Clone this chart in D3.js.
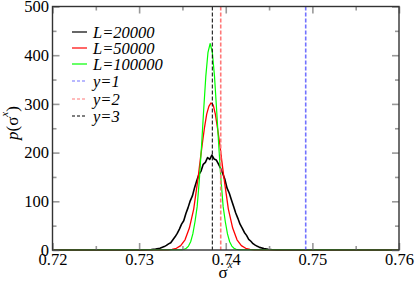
<!DOCTYPE html>
<html>
<head>
<meta charset="utf-8">
<script src="https://cdn.jsdelivr.net/npm/d3@7"></script>
<style>
body { margin: 0; background: #fff; }
text { font-family: "Liberation Serif", "Times New Roman", serif; }
</style>
</head>
<body>
<div id="chart"></div>
<script>
// L=20000 (black)
var sx20000 = [0.72, 0.7299, 0.7304, 0.7309, 0.7314, 0.7319, 0.7324, 0.7329, 0.73315, 0.7334, 0.73365,
  0.7339, 0.73415, 0.7344, 0.73465, 0.7349, 0.73515, 0.7354, 0.73565, 0.7359, 0.73615, 0.7364, 0.73665,
  0.7369, 0.73715, 0.7374, 0.73765, 0.7379, 0.73815, 0.7384, 0.73865, 0.7389, 0.73915, 0.7394, 0.73965,
  0.7399, 0.74015, 0.7404, 0.74065, 0.7409, 0.74115, 0.7414, 0.74165, 0.7419, 0.74215, 0.7424, 0.74265,
  0.7429, 0.74315, 0.7434, 0.74365, 0.7439, 0.7444, 0.7449, 0.7454, 0.7459, 0.7469, 0.76];
var p20000 = [0, 0.1, 0.2, 0.4, 0.9, 1.9, 3.7, 7, 9.5, 12.6, 15,
  21, 27, 34, 43, 53, 60, 75, 87, 101, 111, 128, 142,
  155, 162, 176, 180, 190, 186, 195, 187, 185, 177, 168, 157,
  145, 127, 117, 103, 90, 76, 65, 53, 45, 36, 30, 22,
  18, 13, 10, 7.5, 5.4, 2.9, 1.4, 0.6, 0.3, 0, 0];

// L=50000 (red)
var sx50000 = [0.72, 0.7328, 0.7333, 0.7338, 0.7343, 0.7348, 0.7353, 0.7358, 0.7363, 0.7368, 0.73705,
  0.7373, 0.73755, 0.7378, 0.73805, 0.7383, 0.73855, 0.7388, 0.73905, 0.7393, 0.73955, 0.7398,
  0.7403, 0.7408, 0.7413, 0.7418, 0.7423, 0.7428, 0.7433, 0.7438, 0.76];
var p50000 = [0, 0.1, 0.4, 1.2, 3.5, 9, 21, 45, 84, 147, 184,
  219, 252, 279, 295, 302, 298, 279, 250, 219, 182, 147,
  84, 45, 21, 9, 3.5, 1.2, 0.4, 0.1, 0];

// L=100000 (green)
var sx100000 = [0.72, 0.73495, 0.7352, 0.73545, 0.7357, 0.73595, 0.7362, 0.73645, 0.7367, 0.73695,
  0.7372, 0.73745, 0.7377, 0.73795, 0.7382, 0.73845, 0.7387, 0.73895, 0.7392, 0.73945, 0.7397,
  0.73995, 0.7402, 0.74045, 0.7407, 0.74095, 0.7412, 0.74145, 0.76];
var p100000 = [0, 0.6, 1.5, 3.5, 8, 17, 33, 58, 89, 144,
  212, 287, 357, 406, 424, 406, 357, 287, 212, 144, 89,
  58, 33, 17, 8, 3.5, 1.5, 0.6, 0];

var seriesNames = ["L=20000", "L=50000", "L=100000"];
var refNames = ["y=1", "y=2", "y=3"];
var refValues = [0.74923, 0.73942, 0.73845];

var xMajor = [0.72, 0.73, 0.74, 0.75, 0.76];
var xMinor = [0.725, 0.735, 0.745, 0.755];
var yMajor = [0, 100, 200, 300, 400, 500];
var yMinor = [50, 150, 250, 350, 450];

var width = 415, height = 286;
var plotLeft = 52.5, plotRight = 399, plotTop = 6.5, plotBottom = 250;
var serif = "'Liberation Serif', 'Times New Roman', serif";

var seriesColors = ["#000000", "#ff0000", "#00ff00"];
var seriesWidths = [1.6, 1.3, 1.2];
var refColors = ["#7272ff", "#ff7878", "#000000"];
var refWidths = [1.6, 1.6, 1];

var svg = d3.select("#chart").append("svg")
  .attr("width", width)
  .attr("height", height)
  .attr("font-family", serif);

var x = d3.scaleLinear().domain([0.72, 0.76]).range([plotLeft, plotRight]);
var y = d3.scaleLinear().domain([0, 500]).range([plotBottom, plotTop]);

var line = d3.line()
  .x(function(d) { return x(d[0]); })
  .y(function(d) { return y(d[1]); });

var allSeries = [d3.zip(sx20000, p20000), d3.zip(sx50000, p50000), d3.zip(sx100000, p100000)];

// curves
allSeries.forEach(function(s, i) {
  svg.append("path")
    .datum(s)
    .attr("d", line)
    .attr("fill", "none")
    .attr("stroke", seriesColors[i])
    .attr("stroke-width", seriesWidths[i])
    .attr("stroke-linejoin", "round");
});

// vertical reference lines
refValues.forEach(function(v, i) {
  svg.append("line")
    .attr("x1", x(v)).attr("x2", x(v))
    .attr("y1", y(500)).attr("y2", y(0))
    .attr("stroke", refColors[i])
    .attr("stroke-width", refWidths[i])
    .attr("stroke-dasharray", "4,2");
});

// ticks on all four sides, pointing inward
var tickColor = "#999";
var drawAxis = function(axis, tx, ty, labels) {
  let g = svg.append("g").attr("transform", "translate(" + tx + "," + ty + ")").call(axis);
  g.attr("font-family", serif).attr("font-size", 16.5);
  g.select(".domain").remove();
  g.selectAll(".tick line").attr("stroke", tickColor).attr("stroke-width", 1.6);
  g.selectAll(".tick text").attr("fill", "#000");
  if (!labels) g.selectAll(".tick text").remove();
  return g;
};

drawAxis(d3.axisBottom(x).tickValues(xMajor).tickSize(-7).tickPadding(3.5).tickFormat(d3.format(".2f")), 0, plotBottom, true);
drawAxis(d3.axisBottom(x).tickValues(xMinor).tickSize(-4), 0, plotBottom, false);
drawAxis(d3.axisTop(x).tickValues(xMajor).tickSize(-7), 0, plotTop, false);
drawAxis(d3.axisTop(x).tickValues(xMinor).tickSize(-4), 0, plotTop, false);
drawAxis(d3.axisLeft(y).tickValues(yMajor).tickSize(-7).tickPadding(3.5).tickFormat(d3.format("d")), plotLeft, 0, true);
drawAxis(d3.axisLeft(y).tickValues(yMinor).tickSize(-4), plotLeft, 0, false);
drawAxis(d3.axisRight(y).tickValues(yMajor).tickSize(-7), plotRight, 0, false);
drawAxis(d3.axisRight(y).tickValues(yMinor).tickSize(-4), plotRight, 0, false);

// frame
svg.append("rect")
  .attr("x", plotLeft).attr("y", plotTop)
  .attr("width", plotRight - plotLeft).attr("height", plotBottom - plotTop)
  .attr("fill", "none")
  .attr("stroke", "#333")
  .attr("stroke-width", 1.4);

// legend
var legendNames = seriesNames.concat(refNames);
var legendColors = seriesColors.concat(refColors);
var legendY = [32, 48, 64, 81, 99, 116];
legendNames.forEach(function(name, i) {
  svg.append("line")
    .attr("x1", 72).attr("x2", 87)
    .attr("y1", legendY[i]).attr("y2", legendY[i])
    .attr("stroke", legendColors[i])
    .attr("stroke-width", 1.2)
    .attr("stroke-dasharray", i < 3 ? null : "3,2");
  svg.append("text")
    .attr("x", 93)
    .attr("y", legendY[i] + 5.5)
    .attr("font-size", 16.5)
    .attr("font-style", "italic")
    .text(name);
});

// axis titles
var xt = svg.append("text")
  .attr("x", 225.5)
  .attr("y", 278)
  .attr("font-size", 17)
  .attr("text-anchor", "middle");
xt.append("tspan").text("\u03c3");
xt.append("tspan").attr("font-size", 11).attr("font-style", "italic").attr("dy", -10).text("x");

var yt = svg.append("text")
  .attr("transform", "translate(18,123) rotate(-90)")
  .attr("font-size", 17)
  .attr("text-anchor", "middle");
yt.append("tspan").attr("font-style", "italic").text("p");
yt.append("tspan").text("(\u03c3");
yt.append("tspan").attr("font-size", 11).attr("font-style", "italic").attr("dy", -10).text("x");
yt.append("tspan").attr("dy", 10).text(")");
</script>
</body>
</html>
